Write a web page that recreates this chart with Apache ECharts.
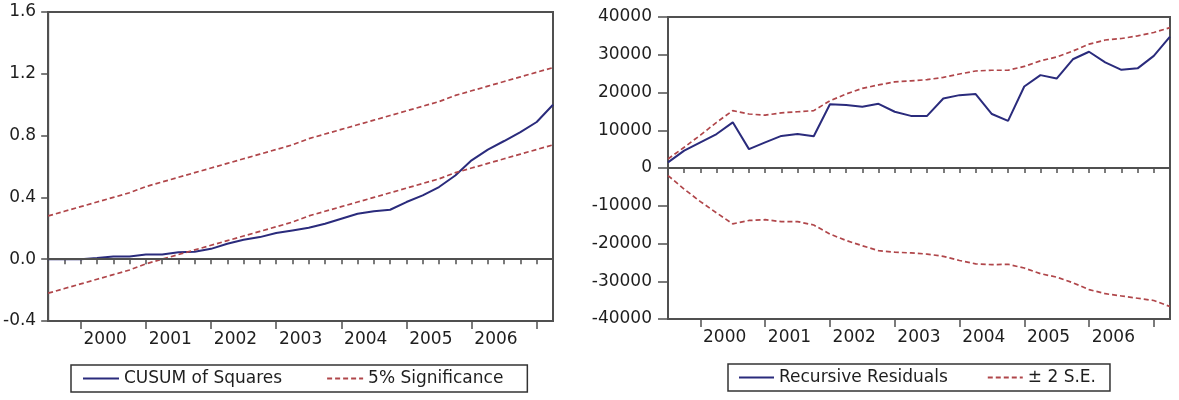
<!DOCTYPE html>
<html>
<head>
<meta charset="utf-8">
<script src="https://cdn.jsdelivr.net/npm/echarts@6.0.0/dist/echarts.min.js"></script>
<style>
html, body { margin: 0; padding: 0; background: #fff; }
#main { width: 1179px; height: 400px; }
</style>
</head>
<body>
<div id="main"></div>
<script>
// quarterly sample used by both stability tests
var quarters = ['1999Q3', '1999Q4',
	'2000Q1', '2000Q2', '2000Q3', '2000Q4',
	'2001Q1', '2001Q2', '2001Q3', '2001Q4',
	'2002Q1', '2002Q2', '2002Q3', '2002Q4',
	'2003Q1', '2003Q2', '2003Q3', '2003Q4',
	'2004Q1', '2004Q2', '2004Q3', '2004Q4',
	'2005Q1', '2005Q2', '2005Q3', '2005Q4',
	'2006Q1', '2006Q2', '2006Q3', '2006Q4',
	'2007Q1', '2007Q2'];
var yearLabels = ['2000', '2001', '2002', '2003', '2004', '2005', '2006'];

// left: CUSUM of squares
var cusumSq = [0, 0, 0, 0.007, 0.018, 0.018, 0.03, 0.03, 0.045, 0.048, 0.067, 0.10, 0.126, 0.143, 0.169, 0.186,
	0.203, 0.229, 0.262, 0.294, 0.311, 0.32, 0.37, 0.413, 0.467, 0.542, 0.64, 0.709, 0.765, 0.823, 0.888, 1.0];
var sigUpper = [0.28, 0.31, 0.34, 0.37, 0.40, 0.43, 0.47, 0.50, 0.53, 0.56, 0.59, 0.62, 0.65, 0.68, 0.71, 0.74,
	0.78, 0.81, 0.84, 0.87, 0.90, 0.93, 0.96, 0.99, 1.02, 1.06, 1.09, 1.12, 1.15, 1.18, 1.21, 1.24];
var sigLower = [-0.22, -0.19, -0.16, -0.13, -0.10, -0.07, -0.03, 0.00, 0.03, 0.06, 0.09, 0.12, 0.15, 0.18, 0.21, 0.24,
	0.28, 0.31, 0.34, 0.37, 0.40, 0.43, 0.46, 0.49, 0.52, 0.56, 0.59, 0.62, 0.65, 0.68, 0.71, 0.74];

// right: recursive residuals
var recResid = [1500, 4600, 6800, 9000, 12100, 5000, 6800, 8500, 9000, 8400, 16900, 16700, 16200, 17000, 14900, 13800,
	13800, 18400, 19300, 19600, 14300, 12500, 21600, 24600, 23700, 28800, 30800, 28000, 26000, 26400, 29700, 34800];
var seUpper = [2400, 5500, 8700, 12100, 15200, 14300, 14000, 14600, 14900, 15200, 17800, 19600, 21100, 22000, 22800, 23100,
	23400, 24000, 24900, 25700, 25900, 25900, 26900, 28400, 29400, 31000, 32800, 33900, 34300, 35000, 35900, 37200];
var seLower = [-2000, -5600, -8900, -11900, -14800, -13900, -13700, -14200, -14200, -15100, -17500, -19200, -20600, -21900, -22300, -22500,
	-22800, -23400, -24500, -25400, -25600, -25500, -26500, -28000, -28900, -30400, -32200, -33300, -33900, -34500, -35100, -36700];

var FONT = 'DejaVu Sans';
var TXT = '#1e1e1e';
var FRAME = '#505050';
var BLUE = '#2a2b7c';
var RED = '#b0464a';

function toPairs(arr) {
	var out = [];
	for(var i = 0; i < arr.length; i++) {
		out.push([i, arr[i]]);
	}
	return out;
}

// every quarter gets a small tick, Q1 gets a long one
var allTicks = [];
var yearTicks = [];
for(var i = 0; i < quarters.length; i++) {
	allTicks.push(i);
	if(quarters[i].indexOf('Q1') > -1) {
		yearTicks.push(i);
	}
}
// year label sits in the middle of the year
var labelPos = [];
for(var n = 0; n < yearLabels.length; n++) {
	labelPos.push(quarters.indexOf(yearLabels[n] + 'Q1') + 1.5);
}

function yearName(v) {
	var k = labelPos.indexOf(v);
	return k > -1 ? yearLabels[k] : '';
}

function xAxes(gi) {
	return [{
		type: 'value', gridIndex: gi, min: 0, max: quarters.length - 1, position: 'bottom',
		axisLine: { show: true, lineStyle: { color: FRAME, width: 2 } },
		axisTick: { show: true, length: 5, customValues: allTicks, lineStyle: { color: FRAME, width: 1.5 } },
		axisLabel: { show: true, customValues: labelPos, formatter: yearName, margin: 10,
			color: TXT, fontFamily: FONT, fontSize: 17 },
		splitLine: { show: false }
	}, {
		type: 'value', gridIndex: gi, min: 0, max: quarters.length - 1, position: 'bottom',
		axisLine: { show: false },
		axisTick: { show: true, length: 8, customValues: yearTicks, lineStyle: { color: FRAME, width: 1.5 } },
		axisLabel: { show: false },
		splitLine: { show: false }
	}];
}

function dashed(name, data, xi, yi) {
	return {
		name: name, type: 'line', xAxisIndex: xi, yAxisIndex: yi, data: toPairs(data),
		showSymbol: false, symbol: 'none', silent: true,
		lineStyle: { color: RED, width: 1.7, type: [5, 3] },
		itemStyle: { color: RED }
	};
}

var xa = xAxes(0).concat(xAxes(1));

var myChart = echarts.init(document.getElementById('main'), null, { renderer: 'canvas' });
var option = {
	animation: false,
	backgroundColor: '#fff',
	grid: [
		{ left: 46, top: 12, width: 507, height: 309, show: true, borderColor: FRAME, borderWidth: 2, backgroundColor: '#fff' },
		{ left: 668, top: 17, width: 502, height: 302, show: true, borderColor: FRAME, borderWidth: 2, backgroundColor: '#fff' }
	],
	xAxis: xa,
	yAxis: [{
		type: 'value', gridIndex: 0, min: -0.4, max: 1.6, interval: 0.4,
		axisLine: { show: true, lineStyle: { color: FRAME, width: 2 } },
		axisTick: { show: true, length: 7, lineStyle: { color: FRAME, width: 1.5 } },
		axisLabel: { margin: 12, color: TXT, fontFamily: FONT, fontSize: 17,
			formatter: function(v) { return v.toFixed(1); } },
		splitLine: { show: false }
	}, {
		type: 'value', gridIndex: 1, min: -40000, max: 40000, interval: 10000,
		axisLine: { show: true, lineStyle: { color: FRAME, width: 2 } },
		axisTick: { show: true, length: 10, lineStyle: { color: FRAME, width: 1.5 } },
		axisLabel: { margin: 16, color: TXT, fontFamily: FONT, fontSize: 17,
			formatter: function(v) { return String(v); } },
		splitLine: { show: false }
	}],
	legend: [{
		left: 71, top: 365, padding: [5, 24, 5, 11],
		data: ['CUSUM of Squares', '5% Significance'],
		itemWidth: 36, itemHeight: 14, itemGap: 44,
		itemStyle: { opacity: 0 },
		borderColor: '#333', borderWidth: 1.5,
		textStyle: { color: TXT, fontFamily: FONT, fontSize: 17 }
	}, {
		left: 728, top: 364, padding: [5, 14, 5, 10],
		data: ['Recursive Residuals', '± 2 S.E.'],
		itemWidth: 35, itemHeight: 14, itemGap: 39,
		itemStyle: { opacity: 0 },
		borderColor: '#333', borderWidth: 1.5,
		textStyle: { color: TXT, fontFamily: FONT, fontSize: 17 }
	}],
	series: [{
		name: 'CUSUM of Squares', type: 'line', xAxisIndex: 0, yAxisIndex: 0, data: toPairs(cusumSq),
		showSymbol: false, symbol: 'none', silent: true, z: 3,
		lineStyle: { color: BLUE, width: 2 },
		itemStyle: { color: BLUE },
		markLine: {
			silent: true, symbol: 'none', label: { show: false },
			lineStyle: { color: FRAME, width: 2, type: 'solid' },
			data: [{ yAxis: 0 }]
		}
	},
	dashed('5% Significance', sigUpper, 0, 0),
	dashed('5% Significance', sigLower, 0, 0),
	{
		name: 'Recursive Residuals', type: 'line', xAxisIndex: 2, yAxisIndex: 1, data: toPairs(recResid),
		showSymbol: false, symbol: 'none', silent: true, z: 3,
		lineStyle: { color: BLUE, width: 2 },
		itemStyle: { color: BLUE },
		markLine: {
			silent: true, symbol: 'none', label: { show: false },
			lineStyle: { color: FRAME, width: 2, type: 'solid' },
			data: [{ yAxis: 0 }]
		}
	},
	dashed('± 2 S.E.', seUpper, 2, 1),
	dashed('± 2 S.E.', seLower, 2, 1)
	]
};
myChart.setOption(option);
</script>
</body>
</html>
